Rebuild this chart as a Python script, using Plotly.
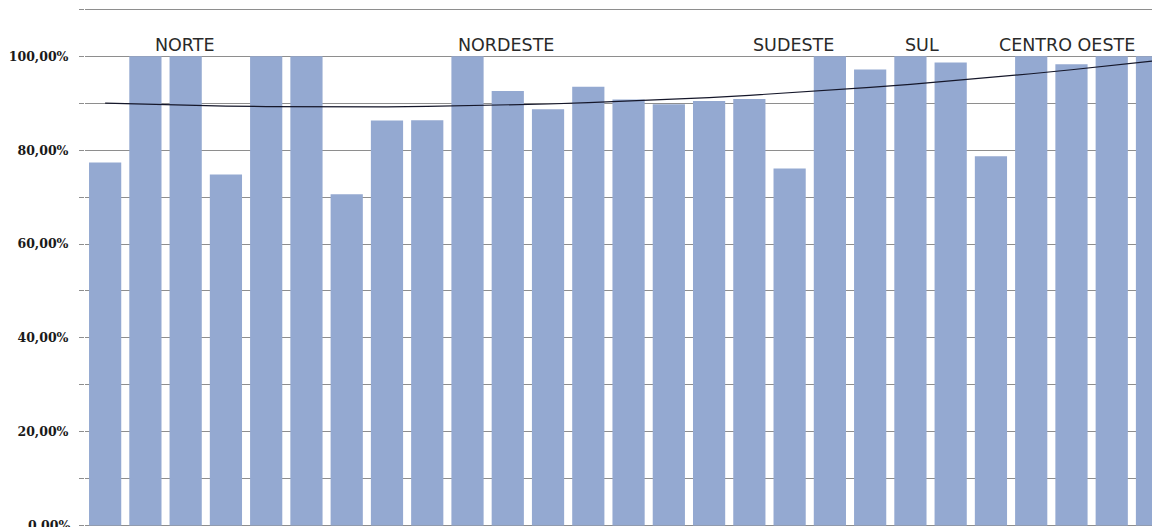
import numpy as np
import plotly.graph_objects as go

# States grouped by region (Norte, Nordeste, Sudeste, Sul, Centro-Oeste)
estados = ["AC", "AP", "AM", "PA", "RO", "RR", "TO",
           "AL", "BA", "CE", "MA", "PB", "PE", "PI", "RN", "SE",
           "ES", "MG", "RJ", "SP",
           "PR", "RS", "SC",
           "DF", "GO", "MT", "MS"]

percentual = [0.774, 1.000, 1.000, 0.748, 1.000, 1.000, 0.706,
              0.863, 0.864, 1.000, 0.926, 0.887, 0.935, 0.908, 0.898, 0.905, 0.909,
              0.761, 1.000, 0.972, 1.000,
              0.987, 0.787, 1.000,
              0.983, 1.000, 1.000]

regioes = ["NORTE", "NORDESTE", "SUDESTE", "SUL", "CENTRO OESTE"]

y_ticks = [0.0, 0.1, 0.2, 0.3, 0.4, 0.5, 0.6, 0.7, 0.8, 0.9, 1.0, 1.1]
y_labels = ["0,00%", "", "20,00%", "", "40,00%", "", "60,00%", "", "80,00%", "", "100,00%", ""]

# Second-order polynomial trendline over the state sequence
idx = np.arange(len(percentual))
coef = np.polyfit(idx, np.array(percentual), 2)
tendencia = np.polyval(coef, idx)

fig = go.Figure()
fig.add_trace(go.Bar(
    x=estados, y=percentual,
    marker=dict(color="#94A9D1", line=dict(width=0)),
    showlegend=False,
))
fig.add_trace(go.Scatter(
    x=estados, y=tendencia, mode="lines",
    line=dict(color="#15172a", width=1.2),
    showlegend=False,
))

label_x = [1.98, 9.96, 17.1, 20.3, 23.9]
for name, xpos in zip(regioes, label_x):
    fig.add_annotation(
        x=xpos, y=1.025, xref="x", yref="y",
        text=name, showarrow=False, yanchor="middle", xanchor="center",
        font=dict(family="DejaVu Sans", size=17.5, color="#2a2a2a"),
    )

# Baseline label sits on the lower edge of the figure
fig.add_annotation(
    x=0, y=y_ticks[0], xref="paper", yref="y", xanchor="right", yanchor="middle",
    xshift=-13, text=y_labels[0], showarrow=False,
    font=dict(family="DejaVu Serif", size=12.5, color="#1a1a1a", weight="bold"),
)

fig.update_layout(
    width=1152, height=527,
    margin=dict(l=85, r=0, t=8, b=0),
    paper_bgcolor="white", plot_bgcolor="white",
    bargap=0.2,
)
fig.update_xaxes(
    range=[-0.5, 26.0], showticklabels=False, showgrid=False,
    zeroline=False, showline=False, ticks="",
)
fig.update_yaxes(
    range=[-0.003, 1.103],
    tickvals=y_ticks, ticktext=y_labels,
    showgrid=True, gridcolor="#8e8e8e", gridwidth=1,
    zeroline=False, showline=False,
    ticks="outside", ticklen=5, tickcolor="#8e8e8e",
    tickfont=dict(family="DejaVu Serif", size=12.5, color="#1a1a1a", weight="bold"),
    ticklabelstandoff=8,
)

fig.write_html("out.html")
